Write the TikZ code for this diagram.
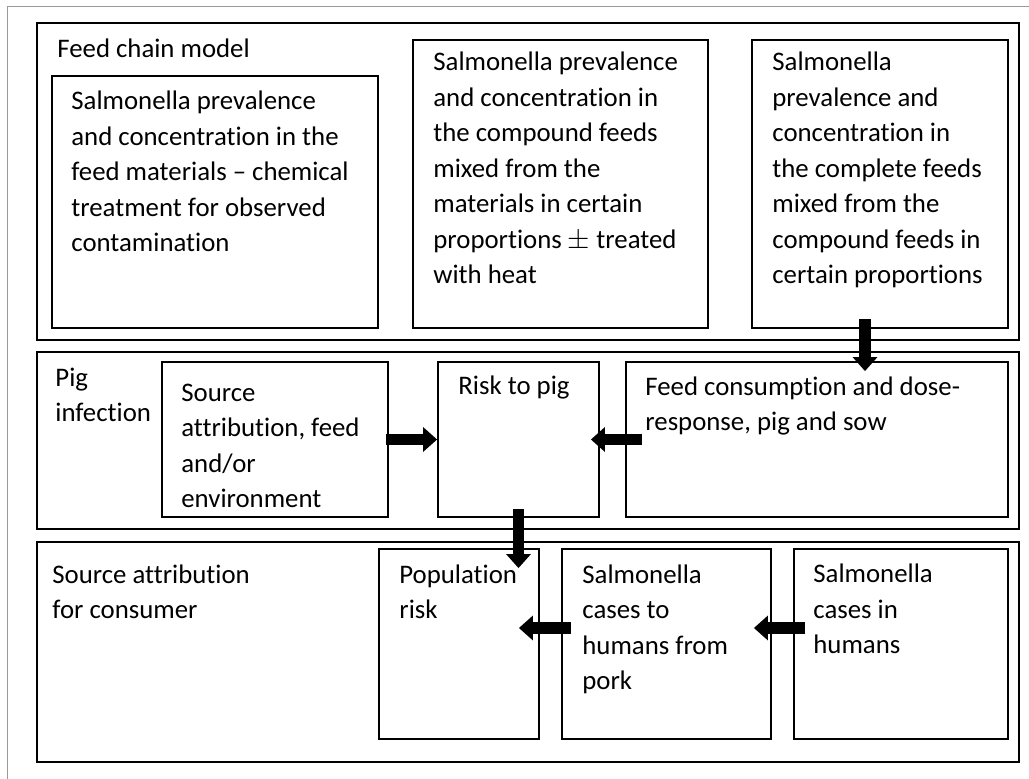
\documentclass[tikz,border=0pt]{standalone}
\usepackage{fontspec}
\setmainfont{Carlito}[Ligatures=NoCommon]
\usetikzlibrary{arrows.meta,fit}

\begin{document}
\begin{tikzpicture}[x=0.5pt,y=-0.5pt,>={Triangle[width=12pt,length=7pt]}]
\tikzstyle{frame}=[draw=black,line width=1.1pt,inner sep=0pt]
\tikzstyle{box}=[draw=black,line width=0.9pt,inner sep=0pt]
% multi-line text sits on the baseline of its last line
\tikzstyle{txt}=[anchor=base west,align=left,inner sep=0pt,font=\fontsize{13.4}{17.75}\selectfont]
\tikzstyle{fat}=[->,line width=5.6pt]
\useasboundingbox (0,0) rectangle (1029,779);
\draw[black!40,line width=0.5pt] (1029,7) -- (7,7) -- (7,779);
% outer bands
\node[frame,fit={(37,23)(1019,340)}](chain){};
\node[frame,fit={(37,352)(1019,529)}](pig){};
\node[frame,fit={(37,542)(1019,762)}](cons){};
% feed chain model
\node[box,fit={(52,76)(378,328)}](mat){};
\node[box,fit={(413,40)(708,328)}](cmp){};
\node[box,fit={(752,40)(1008,328)}](cpl){};
\node[txt](chainT) at (57,58) {Feed chain model};
\node[txt](matT) at (71,252) {Salmonella prevalence\\and concentration in the\\feed materials -- chemical\\treatment for observed\\contamination};
\node[txt](cmpT) at (433,284) {Salmonella prevalence\\and concentration in\\the compound feeds\\mixed from the\\materials in certain\\proportions $\pm$ treated\\with heat};
\node[txt](cplT) at (772,284) {Salmonella\\prevalence and\\concentration in\\the complete feeds\\mixed from the\\compound feeds in\\certain proportions};
% pig infection
\node[box,fit={(162,362)(388,517)}](src){};
\node[box,fit={(438,362)(599,517)}](risk){};
\node[box,fit={(626,362)(1008,517)}](feed){};
\node[txt](pigT) at (55,422) {Pig\\infection};
\node[txt](srcT) at (181,508) {Source\\attribution, feed\\and/or\\environment};
\node[txt](riskT) at (458,395) {Risk to pig};
\node[txt](feedT) at (645,431) {Feed consumption and dose-\\response, pig and sow};
% consumer
\node[box,fit={(379,549)(539,739)}](pop){};
\node[box,fit={(562,549)(771,739)}](pork){};
\node[box,fit={(794,549)(1008,739)}](hum){};
\node[txt](consT) at (52,619) {Source attribution\\for consumer};
\node[txt](popT) at (399,619) {Population\\risk};
\node[txt](porkT) at (582,690) {Salmonella\\cases to\\humans from\\pork};
\node[txt](humT) at (813,654) {Salmonella\\cases in\\humans};
% arrows
\draw[fat] ([xshift=-7.5pt,yshift=5pt]cpl.south) -- ([xshift=-7.5pt,yshift=-5pt]cpl.south |- feed.north);
\draw[fat] ([xshift=-1.5pt]src.east) -- (risk.west);
\draw[fat] ([xshift=8.5pt]feed.west) -- ([xshift=-4.5pt]risk.east);
\draw[fat] ([yshift=4.5pt]risk.south) -- ([yshift=-10pt]risk.south |- pop.north);
\draw[fat] ([xshift=5pt,yshift=8pt]pork.west) -- ([xshift=-10.5pt,yshift=8pt]pop.east);
\draw[fat] ([xshift=6pt,yshift=8pt]hum.west) -- ([xshift=-9pt,yshift=8pt]pork.east);
\end{tikzpicture}
\end{document}
